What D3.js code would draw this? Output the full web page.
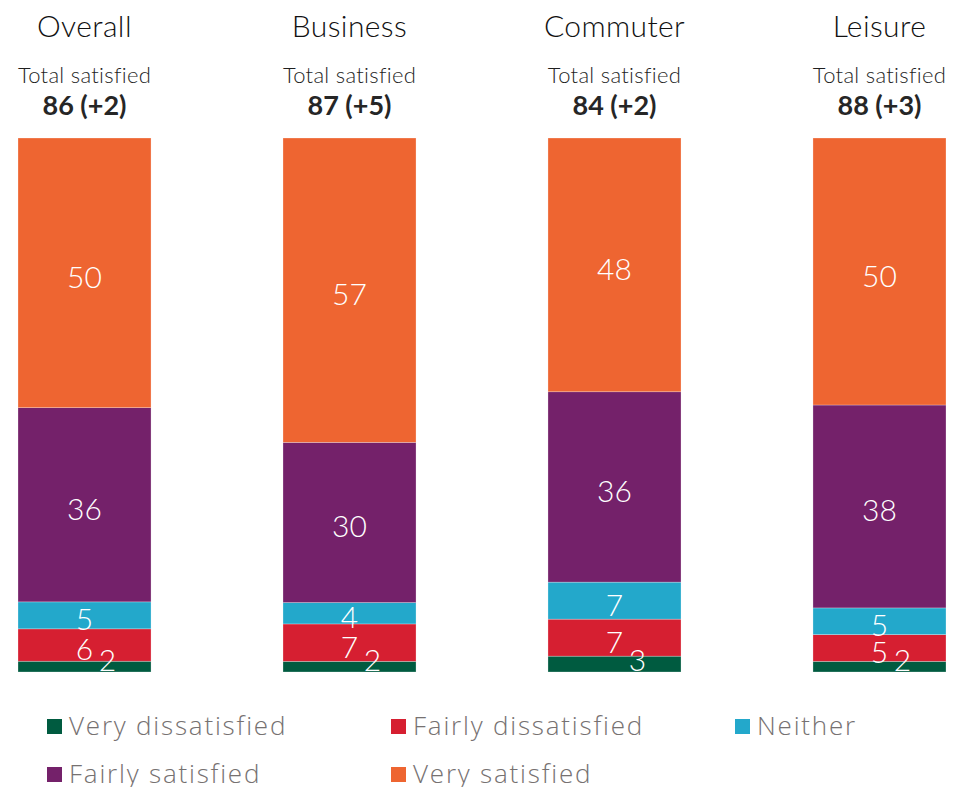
<!DOCTYPE html>
<html>
<head>
<meta charset="utf-8">
<script src="https://cdn.jsdelivr.net/npm/d3@7"></script>
<style>
  html, body { margin: 0; padding: 0; background: #fff; }
  svg { display: block; font-family: Lato, "Open Sans", sans-serif; }
</style>
</head>
<body>
<svg id="chart" width="954" height="787"></svg>
<script>
// Passenger satisfaction by journey purpose (%)
const segments = ["Overall", "Business", "Commuter", "Leisure"];
const seriesNames = ["Very dissatisfied", "Fairly dissatisfied", "Neither", "Fairly satisfied", "Very satisfied"];
const veryDissatisfied   = [2, 2, 3, 2];
const fairlyDissatisfied = [6, 7, 7, 5];
const neither            = [5, 4, 7, 5];
const fairlySatisfied    = [36, 30, 36, 38];
const verySatisfied      = [50, 57, 48, 50];
const totalSatisfied     = [86, 87, 84, 88];
const totalChange        = [2, 5, 2, 3];

const colors = ["#005B40", "#D61F31", "#23A8CB", "#74216A", "#EE6531"];

const seriesValues = [veryDissatisfied, fairlyDissatisfied, neither, fairlySatisfied, verySatisfied];
const rows = segments.map((seg, i) => {
  const r = { segment: seg };
  seriesNames.forEach((k, j) => { r[k] = seriesValues[j][i]; });
  return r;
});

const svg = d3.select("#chart");

const x = d3.scaleBand()
  .domain(segments)
  .range([18, 946])
  .paddingInner(0.498)
  .paddingOuter(0);

const y = d3.scaleLinear().domain([0, 1]).range([672, 138]);

const color = d3.scaleOrdinal().domain(seriesNames).range(colors);

const stacked = d3.stack()
  .keys(seriesNames)
  .offset(d3.stackOffsetExpand)(rows);

// clip so labels hanging below the bars are cut at the baseline
svg.append("defs").append("clipPath").attr("id", "plotClip")
  .append("rect").attr("x", 0).attr("y", 0).attr("width", 954).attr("height", y(0));

const layers = svg.append("g").selectAll("g.layer")
  .data(stacked)
  .join("g")
  .attr("class", "layer")
  .attr("fill", d => color(d.key));

layers.selectAll("rect")
  .data(d => d)
  .join("rect")
  .attr("x", d => x(d.data.segment))
  .attr("width", x.bandwidth())
  .attr("y", d => y(d[1]))
  .attr("height", d => y(d[0]) - y(d[1]))
  .attr("stroke", "#ffffff")
  .attr("stroke-width", 0.6)
  .attr("stroke-opacity", 0.45);

// value labels; the thin bottom segment's label sits off-centre to the right
const labelG = svg.append("g").attr("clip-path", "url(#plotClip)");
stacked.forEach((layer, li) => {
  labelG.selectAll(null)
    .data(layer)
    .join("text")
    .attr("x", d => x(d.data.segment) + x.bandwidth() / 2 + (li === 0 ? 23 : 0))
    .attr("y", d => li === 0 ? y(0) - 1 : (y(d[0]) + y(d[1])) / 2 + 15)
    .attr("text-anchor", "middle")
    .attr("fill", "#ffffff")
    .attr("font-size", 30)
    .attr("font-weight", 300)
    .text(d => d.data[layer.key]);
});

// column headers
const head = svg.append("g");
segments.forEach((seg, i) => {
  const cx = x(seg) + x.bandwidth() / 2;
  head.append("text")
    .attr("x", cx).attr("y", 37)
    .attr("text-anchor", "middle")
    .attr("font-size", 30)
    .attr("font-weight", 300)
    .attr("fill", "#111111")
    .attr("letter-spacing", 0.4)
    .text(seg);
  head.append("text")
    .attr("x", cx).attr("y", 83)
    .attr("text-anchor", "middle")
    .attr("font-size", 22)
    .attr("font-weight", 300)
    .attr("fill", "#1f1f1f")
    .attr("letter-spacing", 0.3)
    .text("Total satisfied");
  head.append("text")
    .attr("x", cx).attr("y", 115)
    .attr("text-anchor", "middle")
    .attr("font-size", 27)
    .attr("font-weight", 700)
    .attr("fill", "#262626")
    .text(`${totalSatisfied[i]} (+${totalChange[i]})`);
});

// legend, two rows of three
const legend = svg.append("g");
seriesNames.forEach((name, i) => {
  const col = i % 3, row = Math.floor(i / 3);
  const lx = 47 + col * 344, ly = 719 + row * 48;
  const g = legend.append("g").attr("transform", `translate(${lx},${ly})`);
  g.append("rect").attr("width", 15).attr("height", 15).attr("fill", color(name));
  g.append("text")
    .attr("x", 22).attr("y", 16)
    .attr("font-family", "'Open Sans', Lato, sans-serif")
    .attr("font-size", 26)
    .attr("font-weight", 300)
    .attr("letter-spacing", 1.8)
    .attr("fill", "#767171")
    .text(name);
});
</script>
</body>
</html>
